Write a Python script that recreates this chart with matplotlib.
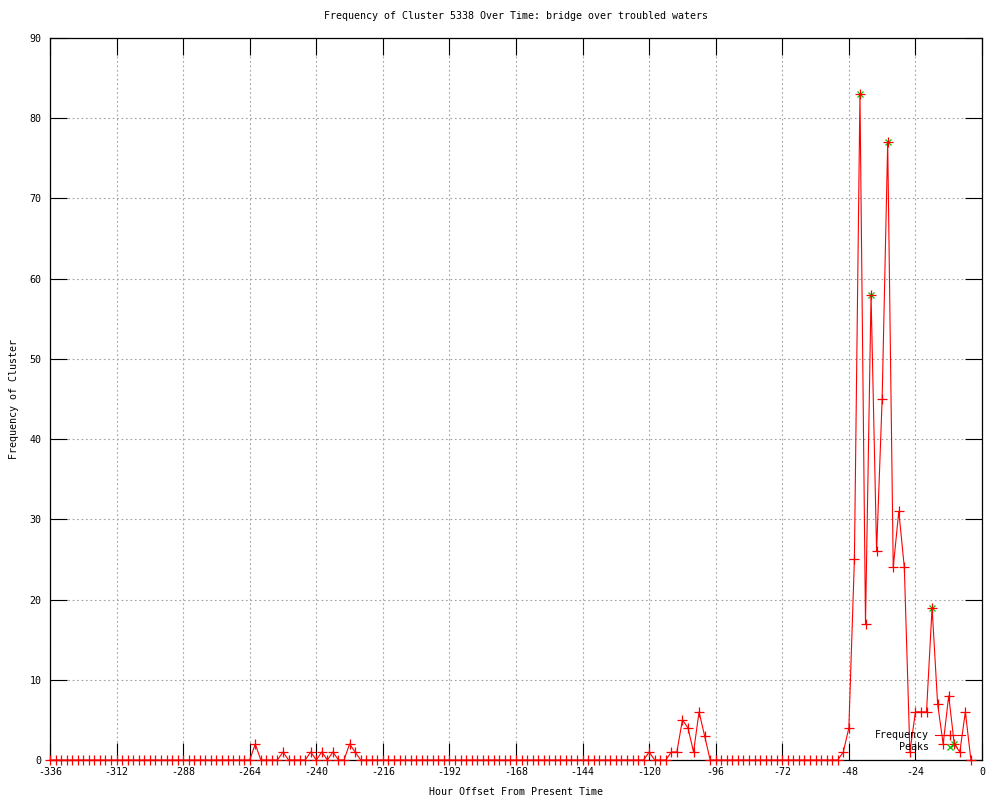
import matplotlib.pyplot as plt

# hour offsets, one reading every 2 hours
hours = list(range(-336, -2, 2))

# frequency of cluster per 2-hour slot (-336 ... -4), 12 values per row = 24 hours
freq = [
    0, 0, 0, 0, 0, 0, 0, 0, 0, 0, 0, 0,      # -336
    0, 0, 0, 0, 0, 0, 0, 0, 0, 0, 0, 0,      # -312
    0, 0, 0, 0, 0, 0, 0, 0, 0, 0, 0, 0,      # -288
    0, 2, 0, 0, 0, 0, 1, 0, 0, 0, 0, 1,      # -264
    0, 1, 0, 1, 0, 0, 2, 1, 0, 0, 0, 0,      # -240
    0, 0, 0, 0, 0, 0, 0, 0, 0, 0, 0, 0,      # -216
    0, 0, 0, 0, 0, 0, 0, 0, 0, 0, 0, 0,      # -192
    0, 0, 0, 0, 0, 0, 0, 0, 0, 0, 0, 0,      # -168
    0, 0, 0, 0, 0, 0, 0, 0, 0, 0, 0, 0,      # -144
    1, 0, 0, 0, 1, 1, 5, 4, 1, 6, 3, 0,      # -120
    0, 0, 0, 0, 0, 0, 0, 0, 0, 0, 0, 0,      # -96
    0, 0, 0, 0, 0, 0, 0, 0, 0, 0, 0, 1,      # -72
    4, 25, 83, 17, 58, 26, 45, 77, 24, 31, 24, 1,  # -48
    6, 6, 6, 19, 7, 2, 8, 2, 1, 6, 0,        # -24
]

peak_hours = [-44, -40, -34, -18, -10]
peak_vals = [83, 58, 77, 19, 2]

xticks = list(range(-336, 1, 24))
yticks = list(range(0, 91, 10))

plt.rcParams['font.family'] = ['DejaVu Sans Mono']
plt.rcParams['font.size'] = 7.2
plt.rcParams['axes.unicode_minus'] = False

fig = plt.figure(figsize=(10, 8), dpi=100)
ax = fig.add_axes([0.05, 0.05, 0.932, 0.9025])

ax.plot(hours, freq, color='red', lw=0.8, marker='+', ms=7, mew=0.9,
        label='Frequency', clip_on=False, zorder=3)
ax.plot(peak_hours, peak_vals, ls='none', marker='x', color='#00c000',
        ms=5, mew=0.9, label='Peaks', zorder=2)

ax.set_xlim(-336, 0)
ax.set_ylim(0, 90)
ax.set_xticks(xticks)
ax.set_yticks(yticks)
ax.tick_params(direction='in', length=12, width=0.8, top=True, right=True,
               colors='black')
ax.tick_params(axis='x', pad=5)
ax.tick_params(axis='y', pad=6)
ax.grid(True, color='#a0a0a0', lw=0.8, linestyle=(0, (1.5, 2.5)))
for s in ax.spines.values():
    s.set_linewidth(0.9)

ax.set_title('Frequency of Cluster 5338 Over Time: bridge over troubled waters',
             fontsize=7.2, pad=14)
ax.set_xlabel('Hour Offset From Present Time', labelpad=7)
ax.set_ylabel('Frequency of Cluster', labelpad=8)

ax.legend(loc='lower right', bbox_to_anchor=(0.99, 0.0), frameon=False,
          markerfirst=False, handlelength=3.0, handletextpad=0.6,
          labelspacing=0.15, borderpad=0.3)

plt.savefig('out.png')
